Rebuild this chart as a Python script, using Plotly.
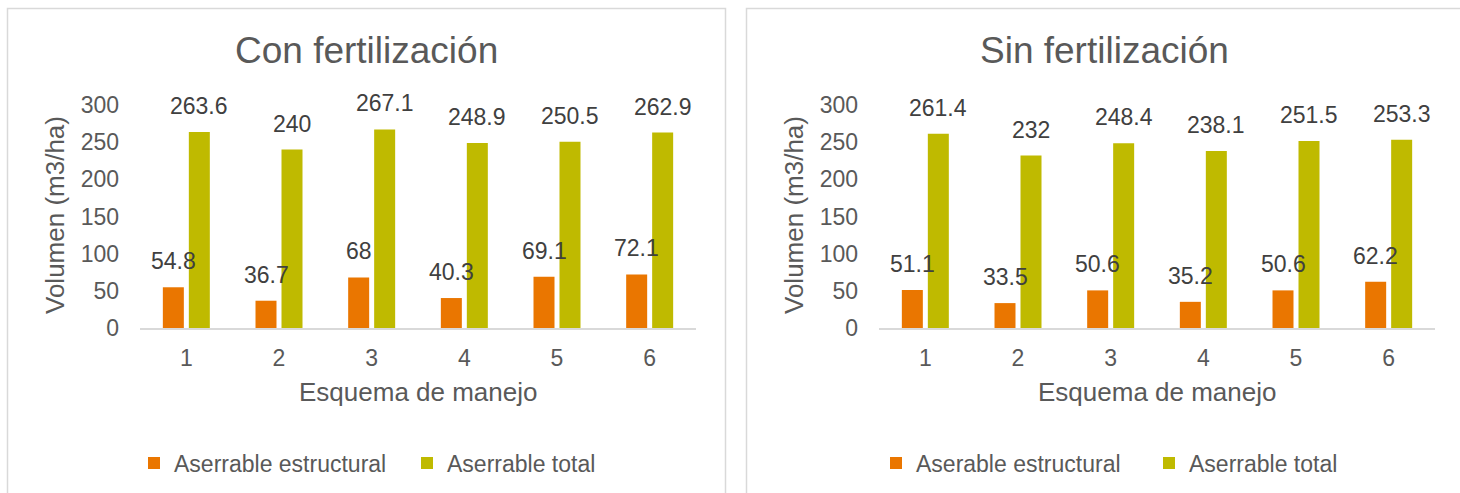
import plotly.graph_objects as go

W, H = 1460, 493

categorias = ["1", "2", "3", "4", "5", "6"]
con_estructural = [54.8, 36.7, 68, 40.3, 69.1, 72.1]
con_total = [263.6, 240, 267.1, 248.9, 250.5, 262.9]
sin_estructural = [51.1, 33.5, 50.6, 35.2, 50.6, 62.2]
sin_total = [261.4, 232, 248.4, 238.1, 251.5, 253.3]

titulos = ["Con fertilización", "Sin fertilización"]
nombres_estructural = ["Aserrable estructural", "Aserable estructural"]
nombre_total = "Aserrable total"
eje_x = "Esquema de manejo"
eje_y = "Volumen (m3/ha)"

ORANGE = "#EA7600"
OLIVE = "#BFBA00"
GRID = "#D9D9D9"
TXT = "#595959"
LBL = "#404040"
FONT = "Liberation Sans, Arial, sans-serif"

def px_x(v):
    return v / W

def px_y(v):
    return 1 - v / H

fig = go.Figure()

panels = [
    ("x", "y", "legend", con_estructural, con_total),
    ("x2", "y2", "legend2", sin_estructural, sin_total),
]
for k, (xa, ya, lg, est, tot) in enumerate(panels):
    fig.add_trace(go.Bar(x=categorias, y=est, name=nombres_estructural[k],
                         marker=dict(color=ORANGE, line=dict(width=0)),
                         xaxis=xa, yaxis=ya, legend=lg, hoverinfo="x+y"))
    fig.add_trace(go.Bar(x=categorias, y=tot, name=nombre_total,
                         marker=dict(color=OLIVE, line=dict(width=0)),
                         xaxis=xa, yaxis=ya, legend=lg, hoverinfo="x+y"))

annotations = []
for k, (xa, ya, lg, est, tot) in enumerate(panels):
    for serie, shift in ((est, -13), (tot, 13)):
        for i, v in enumerate(serie):
            annotations.append(dict(
                x=i, y=v, xref=xa, yref=ya, text=f"{v:g}", showarrow=False,
                xanchor="center", yanchor="bottom", xshift=shift, yshift=11,
                font=dict(family=FONT, size=23, color=LBL)))

def paper_text(text, x, y, size, angle=0):
    return dict(x=px_x(x), y=px_y(y), xref="paper", yref="paper", text=text,
                showarrow=False, xanchor="center", yanchor="middle", textangle=angle,
                font=dict(family=FONT, size=size, color=TXT))

# titles
annotations.append(paper_text(titulos[0], 366, 50, 37))
annotations.append(paper_text(titulos[1], 1104, 50, 37))
# axis titles
annotations.append(paper_text(eje_x, 418, 392, 26))
annotations.append(paper_text(eje_x, 1157, 392, 26))
annotations.append(paper_text(eje_y, 55, 215, 26, -90))
annotations.append(paper_text(eje_y, 794, 215, 26, -90))

shapes = [
    dict(type="rect", xref="paper", yref="paper",
         x0=px_x(7.5), x1=px_x(725.5), y0=-0.1, y1=px_y(8.5),
         line=dict(color=GRID, width=1.5), fillcolor="rgba(0,0,0,0)", layer="below"),
    dict(type="rect", xref="paper", yref="paper",
         x0=px_x(746.5), x1=1.05, y0=-0.1, y1=px_y(8.5),
         line=dict(color=GRID, width=1.5), fillcolor="rgba(0,0,0,0)", layer="below"),
]

yd = [1 - 328 / H, 1 - 105 / H]

def xaxis(dom, anchor):
    return dict(domain=dom, anchor=anchor, type="category", range=[-0.5, 5.5],
                autorange=False, automargin=False,
                showline=True, linecolor=GRID, linewidth=2, showgrid=False,
                ticks="", ticklabelstandoff=8, zeroline=False,
                tickfont=dict(family=FONT, size=23, color=TXT))

def yaxis(anchor):
    return dict(domain=yd, anchor=anchor, range=[0, 300], autorange=False, automargin=False,
                tickvals=[0, 50, 100, 150, 200, 250, 300],
                showline=False, showgrid=False, zeroline=False, ticks="",
                ticklabelstandoff=20,
                tickfont=dict(family=FONT, size=23, color=TXT))

legend_common = dict(orientation="h", yanchor="middle", y=px_y(463), xanchor="left",
                     bgcolor="rgba(0,0,0,0)", font=dict(family=FONT, size=23, color=TXT),
                     entrywidth=228, itemclick=False, itemdoubleclick=False, tracegroupgap=0)

fig.update_layout(
    width=W, height=H, margin=dict(l=0, r=0, t=0, b=0),
    paper_bgcolor="white", plot_bgcolor="white",
    barmode="group", bargap=0.439, bargroupgap=0.192,
    xaxis=xaxis([px_x(140), px_x(696)], "y"),
    yaxis=yaxis("x"),
    xaxis2=xaxis([px_x(879), px_x(1435)], "y2"),
    yaxis2=yaxis("x2"),
    legend=dict(legend_common, x=px_x(134)),
    legend2=dict(legend_common, x=px_x(876)),
    annotations=annotations, shapes=shapes, showlegend=True,
)

fig.write_html("out.html")
